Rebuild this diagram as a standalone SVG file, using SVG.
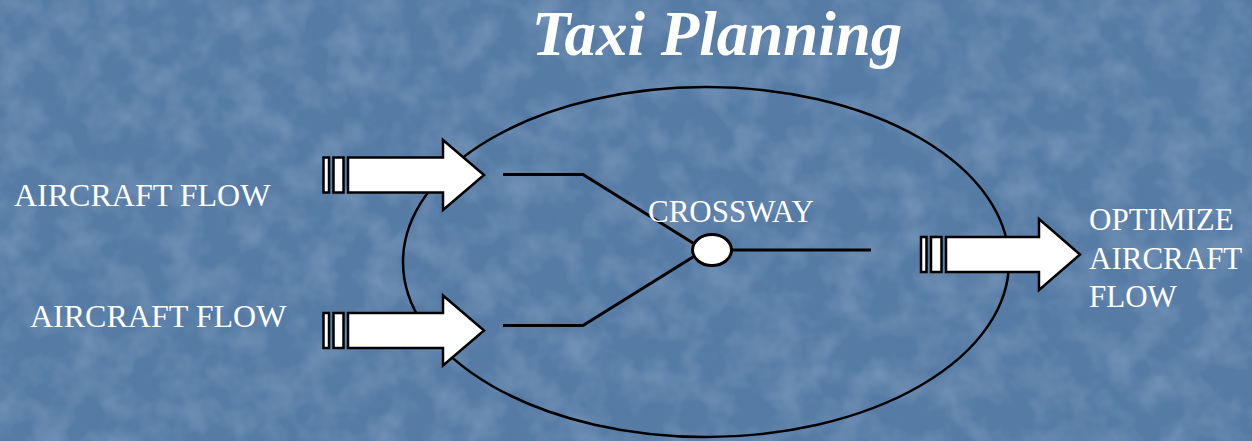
<svg xmlns="http://www.w3.org/2000/svg" width="1252" height="441" viewBox="0 0 1252 441">
  <defs>
    <filter id="tex" x="0" y="0" width="100%" height="100%">
      <feTurbulence type="fractalNoise" baseFrequency="0.03 0.03" numOctaves="3" seed="7" result="n"/>
      <feColorMatrix in="n" type="matrix" values="0 0 0 0 0.40  0 0 0 0 0.55  0 0 0 0 0.72  0.5 0 0 0 -0.2" result="c"/>
      <feComposite in="c" in2="SourceGraphic" operator="over"/>
    </filter>
    <style>
      .lbl { font-family: "Liberation Serif", "Times New Roman", serif; fill: #ffffff; font-size: 32px; }
      .title { font-family: "Liberation Serif", "Times New Roman", serif; fill: #ffffff; font-size: 63px; font-weight: bold; font-style: italic; }
      .ln { fill: none; stroke: #000000; stroke-width: 3; }
      .arrow { fill: #ffffff; stroke: #000000; stroke-width: 2.5; stroke-linejoin: miter; }
    </style>
  </defs>

  <rect x="0" y="0" width="1252" height="441" fill="#567ca6" filter="url(#tex)"/>

  <g id="title">
    <text class="title" x="717" y="55" text-anchor="middle">Taxi Planning</text>
  </g>

  <g id="boundary">
    <ellipse cx="706" cy="262" rx="303" ry="175" fill="none" stroke="#000" stroke-width="2.5"/>
  </g>

  <g id="connectors">
    <polyline class="ln" points="503,174.5 583,174.5 693,243"/>
    <polyline class="ln" points="503,325.5 583,325.5 693,257"/>
    <line class="ln" x1="731" y1="250" x2="871" y2="250"/>
  </g>

  <g id="crossway">
    <ellipse cx="712" cy="250" rx="19.5" ry="15.5" fill="#fff" stroke="#000" stroke-width="3"/>
    <text class="lbl" x="648" y="222" style="font-size:31px">CROSSWAY</text>
  </g>

  <g id="arrow-in-top">
    <rect class="arrow" x="323.5" y="157.5" width="5.5" height="35"/>
    <rect class="arrow" x="333.5" y="157.5" width="10" height="35"/>
    <polygon class="arrow" points="348,157.5 443,157.5 443,140 484,175 443,210 443,192.5 348,192.5"/>
  </g>

  <g id="arrow-in-bottom">
    <rect class="arrow" x="323.5" y="313" width="5.5" height="35"/>
    <rect class="arrow" x="333.5" y="313" width="10" height="35"/>
    <polygon class="arrow" points="348,313 443,313 443,295.5 484,330.5 443,365.5 443,348 348,348"/>
  </g>

  <g id="arrow-out">
    <rect class="arrow" x="921" y="237" width="5.5" height="35"/>
    <rect class="arrow" x="931" y="237" width="10.5" height="35"/>
    <polygon class="arrow" points="946,237 1039,237 1039,219 1080,254.5 1039,290 1039,272 946,272"/>
  </g>

  <g id="label-flow-top">
    <text class="lbl" x="14" y="206">AIRCRAFT FLOW</text>
  </g>
  <g id="label-flow-bottom">
    <text class="lbl" x="30" y="327">AIRCRAFT FLOW</text>
  </g>
  <g id="label-optimize">
    <text class="lbl" x="1089" y="230" style="font-size:31px">OPTIMIZE</text>
    <text class="lbl" x="1089" y="269" style="font-size:31px">AIRCRAFT</text>
    <text class="lbl" x="1089" y="307" style="font-size:31px">FLOW</text>
  </g>
</svg>
